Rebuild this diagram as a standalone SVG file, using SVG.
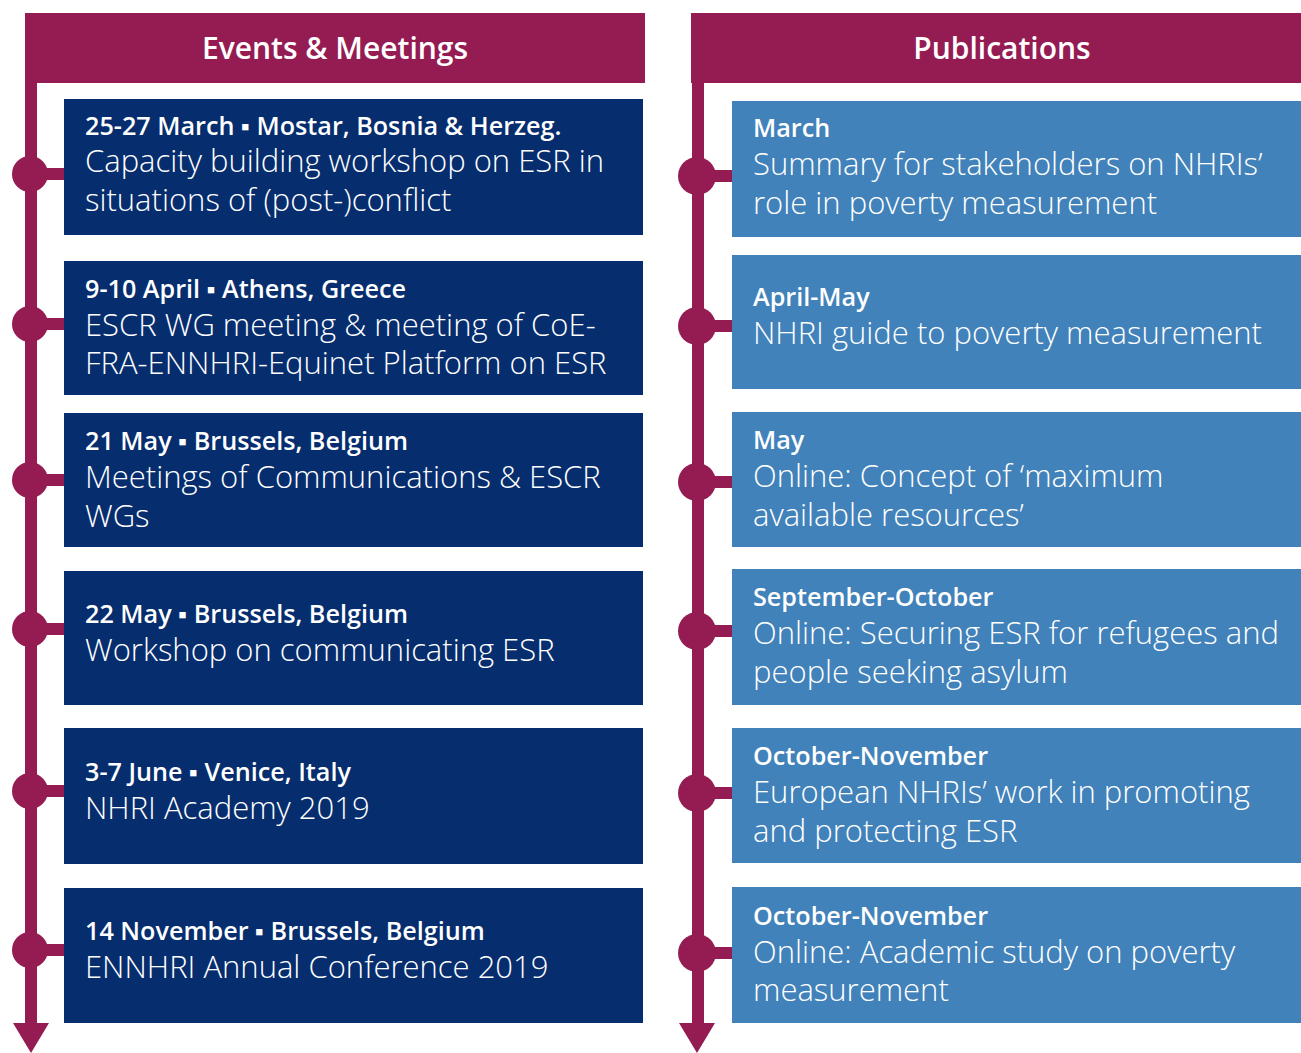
<svg xmlns="http://www.w3.org/2000/svg" width="1301" height="1053" viewBox="0 0 1301 1053">
<style>
.hdr{fill:#951C53}
.ln{fill:#951C53}
.ev{fill:#062D6E}
.pub{fill:#4282BA}
text{font-family:"Open Sans","Noto Sans",sans-serif;fill:#fff}
.h{font-size:30px;font-weight:600;text-anchor:middle}
.t{font-size:25.2px;font-weight:600}
.b{font-size:31px;font-weight:300}
</style>
<rect width="1301" height="1053" fill="#fff"/>
<g id="connectors">
<rect class="ln" x="25" y="60" width="12" height="966"/>
<polygon class="ln" points="13,1023 49,1023 31,1053"/>
<rect class="ln" x="692" y="60" width="12" height="966"/>
<polygon class="ln" points="679,1023 715,1023 697,1053"/>
<g class="ln">
<circle cx="30" cy="174" r="18"/><rect x="30" y="168" width="36" height="12"/>
<circle cx="30" cy="324" r="18"/><rect x="30" y="318" width="36" height="12"/>
<circle cx="30" cy="480" r="18"/><rect x="30" y="474" width="36" height="12"/>
<circle cx="30" cy="629" r="18"/><rect x="30" y="623" width="36" height="12"/>
<circle cx="30" cy="791" r="18"/><rect x="30" y="785" width="36" height="12"/>
<circle cx="30" cy="950" r="18"/><rect x="30" y="944" width="36" height="12"/>
<circle cx="697" cy="176" r="19"/><rect x="697" y="170" width="37" height="12"/>
<circle cx="697" cy="326" r="19"/><rect x="697" y="320" width="37" height="12"/>
<circle cx="697" cy="482" r="19"/><rect x="697" y="476" width="37" height="12"/>
<circle cx="697" cy="631" r="19"/><rect x="697" y="625" width="37" height="12"/>
<circle cx="697" cy="793" r="19"/><rect x="697" y="787" width="37" height="12"/>
<circle cx="697" cy="953" r="19"/><rect x="697" y="947" width="37" height="12"/>
</g>
</g>
<g id="hdr-events"><rect class="hdr" x="25" y="13" width="620" height="70"/><text class="h" x="335" y="59">Events &amp; Meetings</text></g>
<g id="hdr-pubs"><rect class="hdr" x="691" y="13" width="610" height="70"/><text class="h" x="1002" y="59">Publications</text></g>

<g id="ev1"><rect class="ev" x="64" y="99" width="579" height="136"/>
<text class="t" x="85" y="135">25-27 March ▪ Mostar, Bosnia &amp; Herzeg.</text>
<text class="b" x="85" y="172">Capacity building workshop on ESR in</text>
<text class="b" x="85" y="211">situations of (post-)conflict</text></g>
<g id="ev2"><rect class="ev" x="64" y="261" width="579" height="134"/>
<text class="t" x="85" y="298">9-10 April ▪ Athens, Greece</text>
<text class="b" x="85" y="336">ESCR WG meeting &amp; meeting of CoE-</text>
<text class="b" x="85" y="374">FRA-ENNHRI-Equinet Platform on ESR</text></g>
<g id="ev3"><rect class="ev" x="64" y="413" width="579" height="134"/>
<text class="t" x="85" y="450">21 May ▪ Brussels, Belgium</text>
<text class="b" x="85" y="488">Meetings of Communications &amp; ESCR</text>
<text class="b" x="85" y="527">WGs</text></g>
<g id="ev4"><rect class="ev" x="64" y="571" width="579" height="134"/>
<text class="t" x="85" y="623">22 May ▪ Brussels, Belgium</text>
<text class="b" x="85" y="661">Workshop on communicating ESR</text></g>
<g id="ev5"><rect class="ev" x="64" y="728" width="579" height="136"/>
<text class="t" x="85" y="781">3-7 June ▪ Venice, Italy</text>
<text class="b" x="85" y="819">NHRI Academy 2019</text></g>
<g id="ev6"><rect class="ev" x="64" y="888" width="579" height="135"/>
<text class="t" x="85" y="940">14 November ▪ Brussels, Belgium</text>
<text class="b" x="85" y="978">ENNHRI Annual Conference 2019</text></g>

<g id="pub1"><rect class="pub" x="732" y="101" width="569" height="136"/>
<text class="t" x="753" y="137">March</text>
<text class="b" x="753" y="175">Summary for stakeholders on NHRIs’</text>
<text class="b" x="753" y="214">role in poverty measurement</text></g>
<g id="pub2"><rect class="pub" x="732" y="255" width="569" height="134"/>
<text class="t" x="753" y="306">April-May</text>
<text class="b" x="753" y="344">NHRI guide to poverty measurement</text></g>
<g id="pub3"><rect class="pub" x="732" y="412" width="569" height="135"/>
<text class="t" x="753" y="449">May</text>
<text class="b" x="753" y="487">Online: Concept of ‘maximum</text>
<text class="b" x="753" y="526">available resources’</text></g>
<g id="pub4"><rect class="pub" x="732" y="569" width="569" height="136"/>
<text class="t" x="753" y="606">September-October</text>
<text class="b" x="753" y="644">Online: Securing ESR for refugees and</text>
<text class="b" x="753" y="683">people seeking asylum</text></g>
<g id="pub5"><rect class="pub" x="732" y="728" width="569" height="135"/>
<text class="t" x="753" y="765">October-November</text>
<text class="b" x="753" y="803">European NHRIs’ work in promoting</text>
<text class="b" x="753" y="842">and protecting ESR</text></g>
<g id="pub6"><rect class="pub" x="732" y="887" width="569" height="136"/>
<text class="t" x="753" y="925">October-November</text>
<text class="b" x="753" y="963">Online: Academic study on poverty</text>
<text class="b" x="753" y="1001">measurement</text></g>
</svg>
